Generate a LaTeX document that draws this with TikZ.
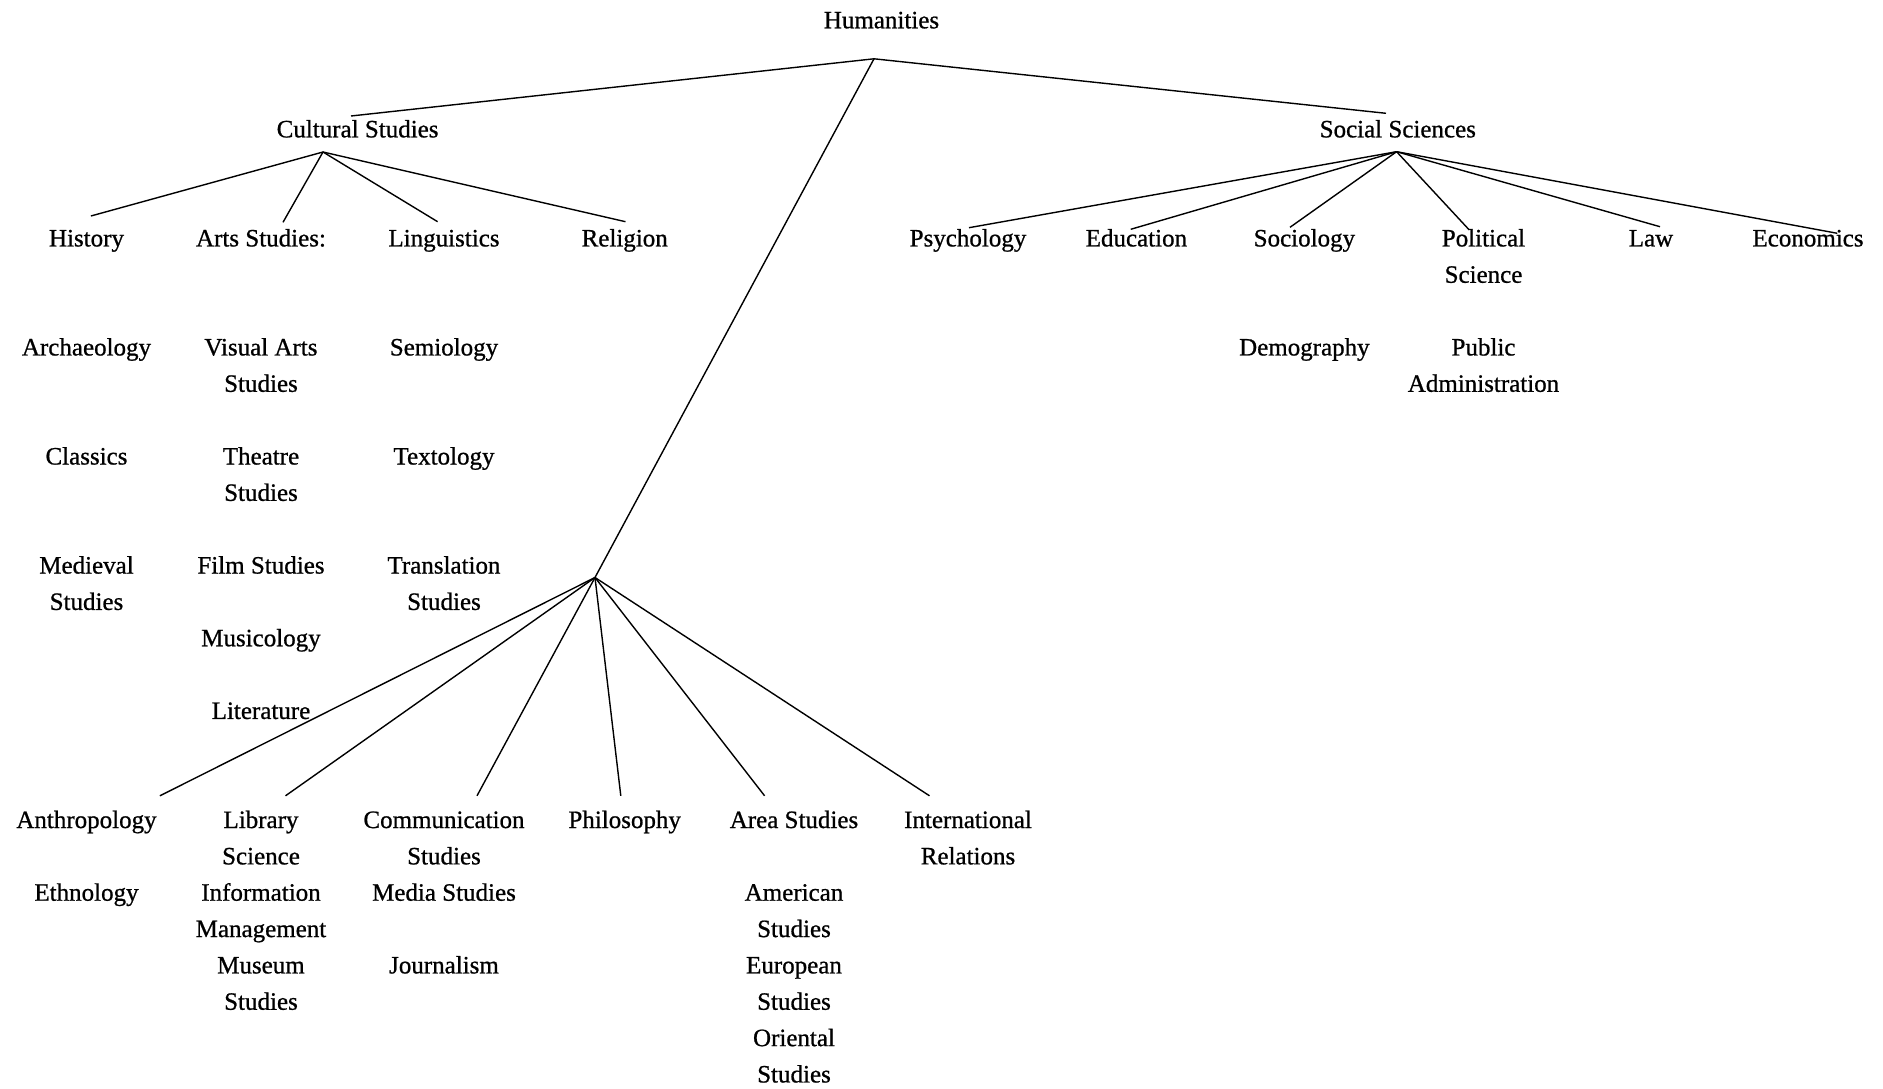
\documentclass[tikz,border=0pt]{standalone}
\usepackage{fontspec}
\setmainfont[FakeBold=0.8]{Liberation Serif}
\begin{document}
\begin{tikzpicture}[x=1pt,y=-1pt,
  lbl/.style={anchor=base, align=center, inner sep=0pt, font=\fontsize{25}{36.35}\selectfont},
  edge/.style={line width=1.4pt}]
\useasboundingbox (0,0) rectangle (1883,1089);
% level 0/1
\node[lbl] (hum) at (881.5,28.3) {Humanities};
\node[lbl] (cs) at (357.6,137.35) {Cultural Studies};
\node[lbl] (ss) at (1397.8,137.35) {Social Sciences};
% row n=6 (two-line nodes are anchored at the baseline of their last line)
\node[lbl] (hist) at (86.5,246.4) {History};
\node[lbl] (arts) at (261,246.4) {Arts Studies:};
\node[lbl] (ling) at (444,246.4) {Linguistics};
\node[lbl] (rel) at (624.7,246.4) {Religion};
\node[lbl] (psy) at (968,246.4) {Psychology};
\node[lbl] (edu) at (1136.4,246.4) {Education};
\node[lbl] (soc) at (1304.4,246.4) {Sociology};
\node[lbl] (pol) at (1483.5,282.75) {Political\\Science};
\node[lbl] (law) at (1651,246.4) {Law};
\node[lbl] (eco) at (1808,246.4) {Economics};
% row n=9
\node[lbl] (arch) at (86.5,355.45) {Archaeology};
\node[lbl] (vis) at (261,391.8) {Visual Arts\\Studies};
\node[lbl] (semi) at (444,355.45) {Semiology};
\node[lbl] (demo) at (1304.4,355.45) {Demography};
\node[lbl] (pub) at (1483.5,391.8) {Public\\Administration};
% row n=12
\node[lbl] (clas) at (86.5,464.5) {Classics};
\node[lbl] (thea) at (261,500.85) {Theatre\\Studies};
\node[lbl] (textol) at (444,464.5) {Textology};
% row n=15
\node[lbl] (med) at (86.5,609.9) {Medieval\\Studies};
\node[lbl] (film) at (261,573.55) {Film Studies};
\node[lbl] (trans) at (444,609.9) {Translation\\Studies};
\node[lbl] (mus) at (261,646.25) {Musicology};
\node[lbl] (lit) at (261,718.95) {Literature};
% bottom
\node[lbl] (anth) at (86.5,828) {Anthropology};
\node[lbl] (lib) at (261,864.35) {Library\\Science};
\node[lbl] (comm) at (444,864.35) {Communication\\Studies};
\node[lbl] (phil) at (624.7,828) {Philosophy};
\node[lbl] (area) at (794,828) {Area Studies};
\node[lbl] (intl) at (968,864.35) {International\\Relations};
\node[lbl] (eth) at (86.5,900.7) {Ethnology};
\node[lbl] (info) at (261,937.05) {Information\\Management};
\node[lbl] (media) at (444,900.7) {Media Studies};
\node[lbl] (amer) at (794,937.05) {American\\Studies};
\node[lbl] (muse) at (261,1009.75) {Museum\\Studies};
\node[lbl] (jour) at (444,973.4) {Journalism};
\node[lbl] (euro) at (794,1009.75) {European\\Studies};
\node[lbl] (orie) at (794,1082.45) {Oriental\\Studies};
% junctions and connector ends
\coordinate (j0) at (874,58.8);
\coordinate (csin) at (351,116);
\coordinate (ssin) at (1386,113.3);
\coordinate (j1) at (323,152);
\coordinate (j2) at (1396.6,151.7);
\coordinate (j3) at (595,577.5);
\coordinate (histin) at (90.9,216);
\coordinate (artsin) at (283,222.3);
\coordinate (lingin) at (437.6,221.7);
\coordinate (relin) at (625.5,221.7);
\coordinate (psyin) at (969,227.7);
\coordinate (eduin) at (1130.7,229.3);
\coordinate (socin) at (1290,227.3);
\coordinate (polin) at (1469.3,230);
\coordinate (lawin) at (1660,226.7);
\coordinate (ecoin) at (1837.3,233.3);
\coordinate (anthin) at (159.9,795.8);
\coordinate (libin) at (285.5,795.8);
\coordinate (commin) at (477,795.8);
\coordinate (philin) at (620.8,795.8);
\coordinate (areain) at (764.6,795.8);
\coordinate (intlin) at (929.5,795.8);
% connectors
\draw[edge] (j0) -- (csin);
\draw[edge] (j0) -- (ssin);
\draw[edge] (j0) -- (j3);
\foreach \t in {histin,artsin,lingin,relin} \draw[edge] (j1) -- (\t);
\foreach \t in {psyin,eduin,socin,polin,lawin,ecoin} \draw[edge] (j2) -- (\t);
\foreach \t in {anthin,libin,commin,philin,areain,intlin} \draw[edge] (j3) -- (\t);
\end{tikzpicture}
\end{document}
